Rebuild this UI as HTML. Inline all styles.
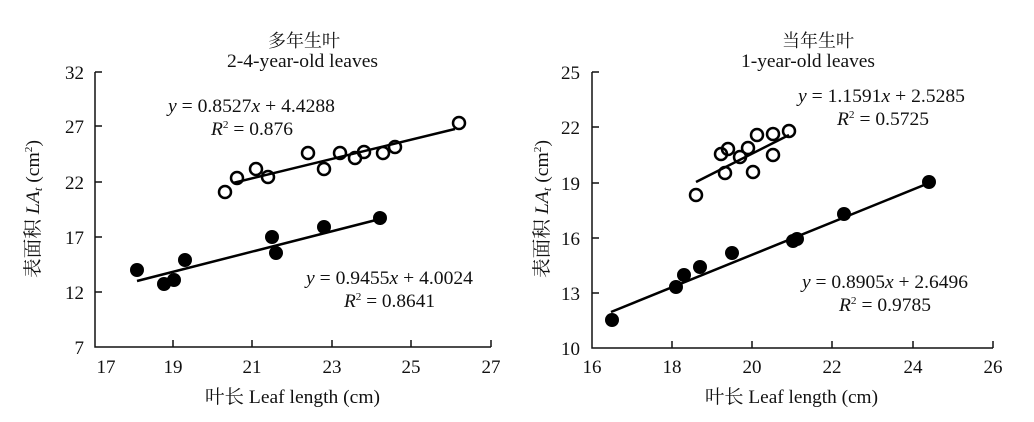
<!DOCTYPE html>
<html><head><meta charset="utf-8"><style>body{margin:0;background:#fff}svg{display:block}text{font-family:"Liberation Serif","Noto Serif CJK SC",serif;fill:#111}</style></head><body>
<svg width="1034" height="422" viewBox="0 0 1034 422" xmlns="http://www.w3.org/2000/svg">
<g font-size="19">
<!-- LEFT -->
<text x="304" y="47" text-anchor="middle" font-size="18" font-family="Noto Serif CJK SC,serif">多年生叶</text>
<text x="227" y="67" textLength="151" lengthAdjust="spacingAndGlyphs">2-4-year-old leaves</text>
<g stroke="#111" stroke-width="1.5" fill="none">
<path d="M95,72 V347 H491"/>
<path d="M95,72h7M95,126h7M95,182h7M95,237h7M95,292h7"/>
<path d="M173,347v-7M252,347v-7M332,347v-7M411,347v-7M491,347v-7"/>
</g>
<g text-anchor="end"><text x="84" y="79">32</text><text x="84" y="133">27</text><text x="84" y="189">22</text><text x="84" y="244">17</text><text x="84" y="299">12</text><text x="84" y="354">7</text></g>
<g text-anchor="middle"><text x="106" y="373">17</text><text x="173" y="373">19</text><text x="252" y="373">21</text><text x="332" y="373">23</text><text x="411" y="373">25</text><text x="491" y="373">27</text></g>
<text x="205" y="403" textLength="175" lengthAdjust="spacingAndGlyphs"><tspan font-family="Noto Serif CJK SC,serif">叶长</tspan> Leaf length (cm)</text>
<text transform="translate(39,278) rotate(-90)" textLength="138" lengthAdjust="spacingAndGlyphs"><tspan font-family="Noto Serif CJK SC,serif">表面积</tspan> <tspan font-style="italic">LA<tspan font-size="12" dy="3">t</tspan></tspan><tspan dy="-3"> (cm</tspan><tspan font-size="11" dy="-7">2</tspan><tspan dy="7">)</tspan></text>
<text x="168" y="112" textLength="167" lengthAdjust="spacingAndGlyphs"><tspan font-style="italic">y</tspan> = 0.8527<tspan font-style="italic">x</tspan> + 4.4288</text>
<text x="211" y="135" textLength="82" lengthAdjust="spacingAndGlyphs"><tspan font-style="italic">R</tspan><tspan font-size="11" dy="-7">2</tspan><tspan dy="7"> = 0.876</tspan></text>
<text x="306" y="284" textLength="167" lengthAdjust="spacingAndGlyphs"><tspan font-style="italic">y</tspan> = 0.9455<tspan font-style="italic">x</tspan> + 4.0024</text>
<text x="344" y="307" textLength="91" lengthAdjust="spacingAndGlyphs"><tspan font-style="italic">R</tspan><tspan font-size="11" dy="-7">2</tspan><tspan dy="7"> = 0.8641</tspan></text>
<g stroke="#000" stroke-width="2.5"><line x1="233" y1="183" x2="455" y2="129"/><line x1="137" y1="281" x2="380" y2="219"/></g>
<g fill="none" stroke="#000" stroke-width="2.5">
<circle cx="225" cy="192" r="6"/><circle cx="237" cy="178" r="6"/><circle cx="256" cy="169" r="6"/><circle cx="268" cy="177" r="6"/><circle cx="308" cy="153" r="6"/><circle cx="324" cy="169" r="6"/><circle cx="340" cy="153" r="6"/><circle cx="355" cy="158" r="6"/><circle cx="364" cy="152" r="6"/><circle cx="383" cy="153" r="6"/><circle cx="395" cy="147" r="6"/><circle cx="459" cy="123" r="6"/>
</g>
<g fill="#000">
<circle cx="137" cy="270" r="7"/><circle cx="164" cy="284" r="7"/><circle cx="174" cy="280" r="7"/><circle cx="185" cy="260" r="7"/><circle cx="272" cy="237" r="7"/><circle cx="276" cy="253" r="7"/><circle cx="324" cy="227" r="7"/><circle cx="380" cy="218" r="7"/>
</g>
<!-- RIGHT -->
<text x="818" y="47" text-anchor="middle" font-size="18" font-family="Noto Serif CJK SC,serif">当年生叶</text>
<text x="741" y="67" textLength="134" lengthAdjust="spacingAndGlyphs">1-year-old leaves</text>
<g stroke="#111" stroke-width="1.5" fill="none">
<path d="M592,72 V348 H993"/>
<path d="M592,72h7M592,127h7M592,183h7M592,238h7M592,293h7"/>
<path d="M672,348v-7M752,348v-7M832,348v-7M913,348v-7M993,348v-7"/>
</g>
<g text-anchor="end"><text x="580" y="79">25</text><text x="580" y="134">22</text><text x="580" y="190">19</text><text x="580" y="245">16</text><text x="580" y="300">13</text><text x="580" y="355">10</text></g>
<g text-anchor="middle"><text x="592" y="373">16</text><text x="672" y="373">18</text><text x="752" y="373">20</text><text x="832" y="373">22</text><text x="913" y="373">24</text><text x="993" y="373">26</text></g>
<text x="705" y="403" textLength="173" lengthAdjust="spacingAndGlyphs"><tspan font-family="Noto Serif CJK SC,serif">叶长</tspan> Leaf length (cm)</text>
<text transform="translate(548,278) rotate(-90)" textLength="138" lengthAdjust="spacingAndGlyphs"><tspan font-family="Noto Serif CJK SC,serif">表面积</tspan> <tspan font-style="italic">LA<tspan font-size="12" dy="3">t</tspan></tspan><tspan dy="-3"> (cm</tspan><tspan font-size="11" dy="-7">2</tspan><tspan dy="7">)</tspan></text>
<text x="798" y="102" textLength="167" lengthAdjust="spacingAndGlyphs"><tspan font-style="italic">y</tspan> = 1.1591<tspan font-style="italic">x</tspan> + 2.5285</text>
<text x="837" y="125" textLength="92" lengthAdjust="spacingAndGlyphs"><tspan font-style="italic">R</tspan><tspan font-size="11" dy="-7">2</tspan><tspan dy="7"> = 0.5725</tspan></text>
<text x="802" y="288" textLength="166" lengthAdjust="spacingAndGlyphs"><tspan font-style="italic">y</tspan> = 0.8905<tspan font-style="italic">x</tspan> + 2.6496</text>
<text x="839" y="311" textLength="92" lengthAdjust="spacingAndGlyphs"><tspan font-style="italic">R</tspan><tspan font-size="11" dy="-7">2</tspan><tspan dy="7"> = 0.9785</tspan></text>
<g stroke="#000" stroke-width="2.5"><line x1="696" y1="182" x2="789" y2="135"/><line x1="611" y1="312" x2="929" y2="183"/></g>
<g fill="none" stroke="#000" stroke-width="2.5">
<circle cx="696" cy="195" r="6"/><circle cx="721" cy="154" r="6"/><circle cx="728" cy="149" r="6"/><circle cx="725" cy="173" r="6"/><circle cx="740" cy="157" r="6"/><circle cx="748" cy="148" r="6"/><circle cx="753" cy="172" r="6"/><circle cx="757" cy="135" r="6"/><circle cx="773" cy="134" r="6"/><circle cx="773" cy="155" r="6"/><circle cx="789" cy="131" r="6"/>
</g>
<g fill="#000">
<circle cx="612" cy="320" r="7"/><circle cx="676" cy="287" r="7"/><circle cx="684" cy="275" r="7"/><circle cx="700" cy="267" r="7"/><circle cx="732" cy="253" r="7"/><circle cx="793" cy="241" r="7"/><circle cx="797" cy="239" r="7"/><circle cx="844" cy="214" r="7"/><circle cx="929" cy="182" r="7"/>
</g>
</g>
</svg>
</body></html>
